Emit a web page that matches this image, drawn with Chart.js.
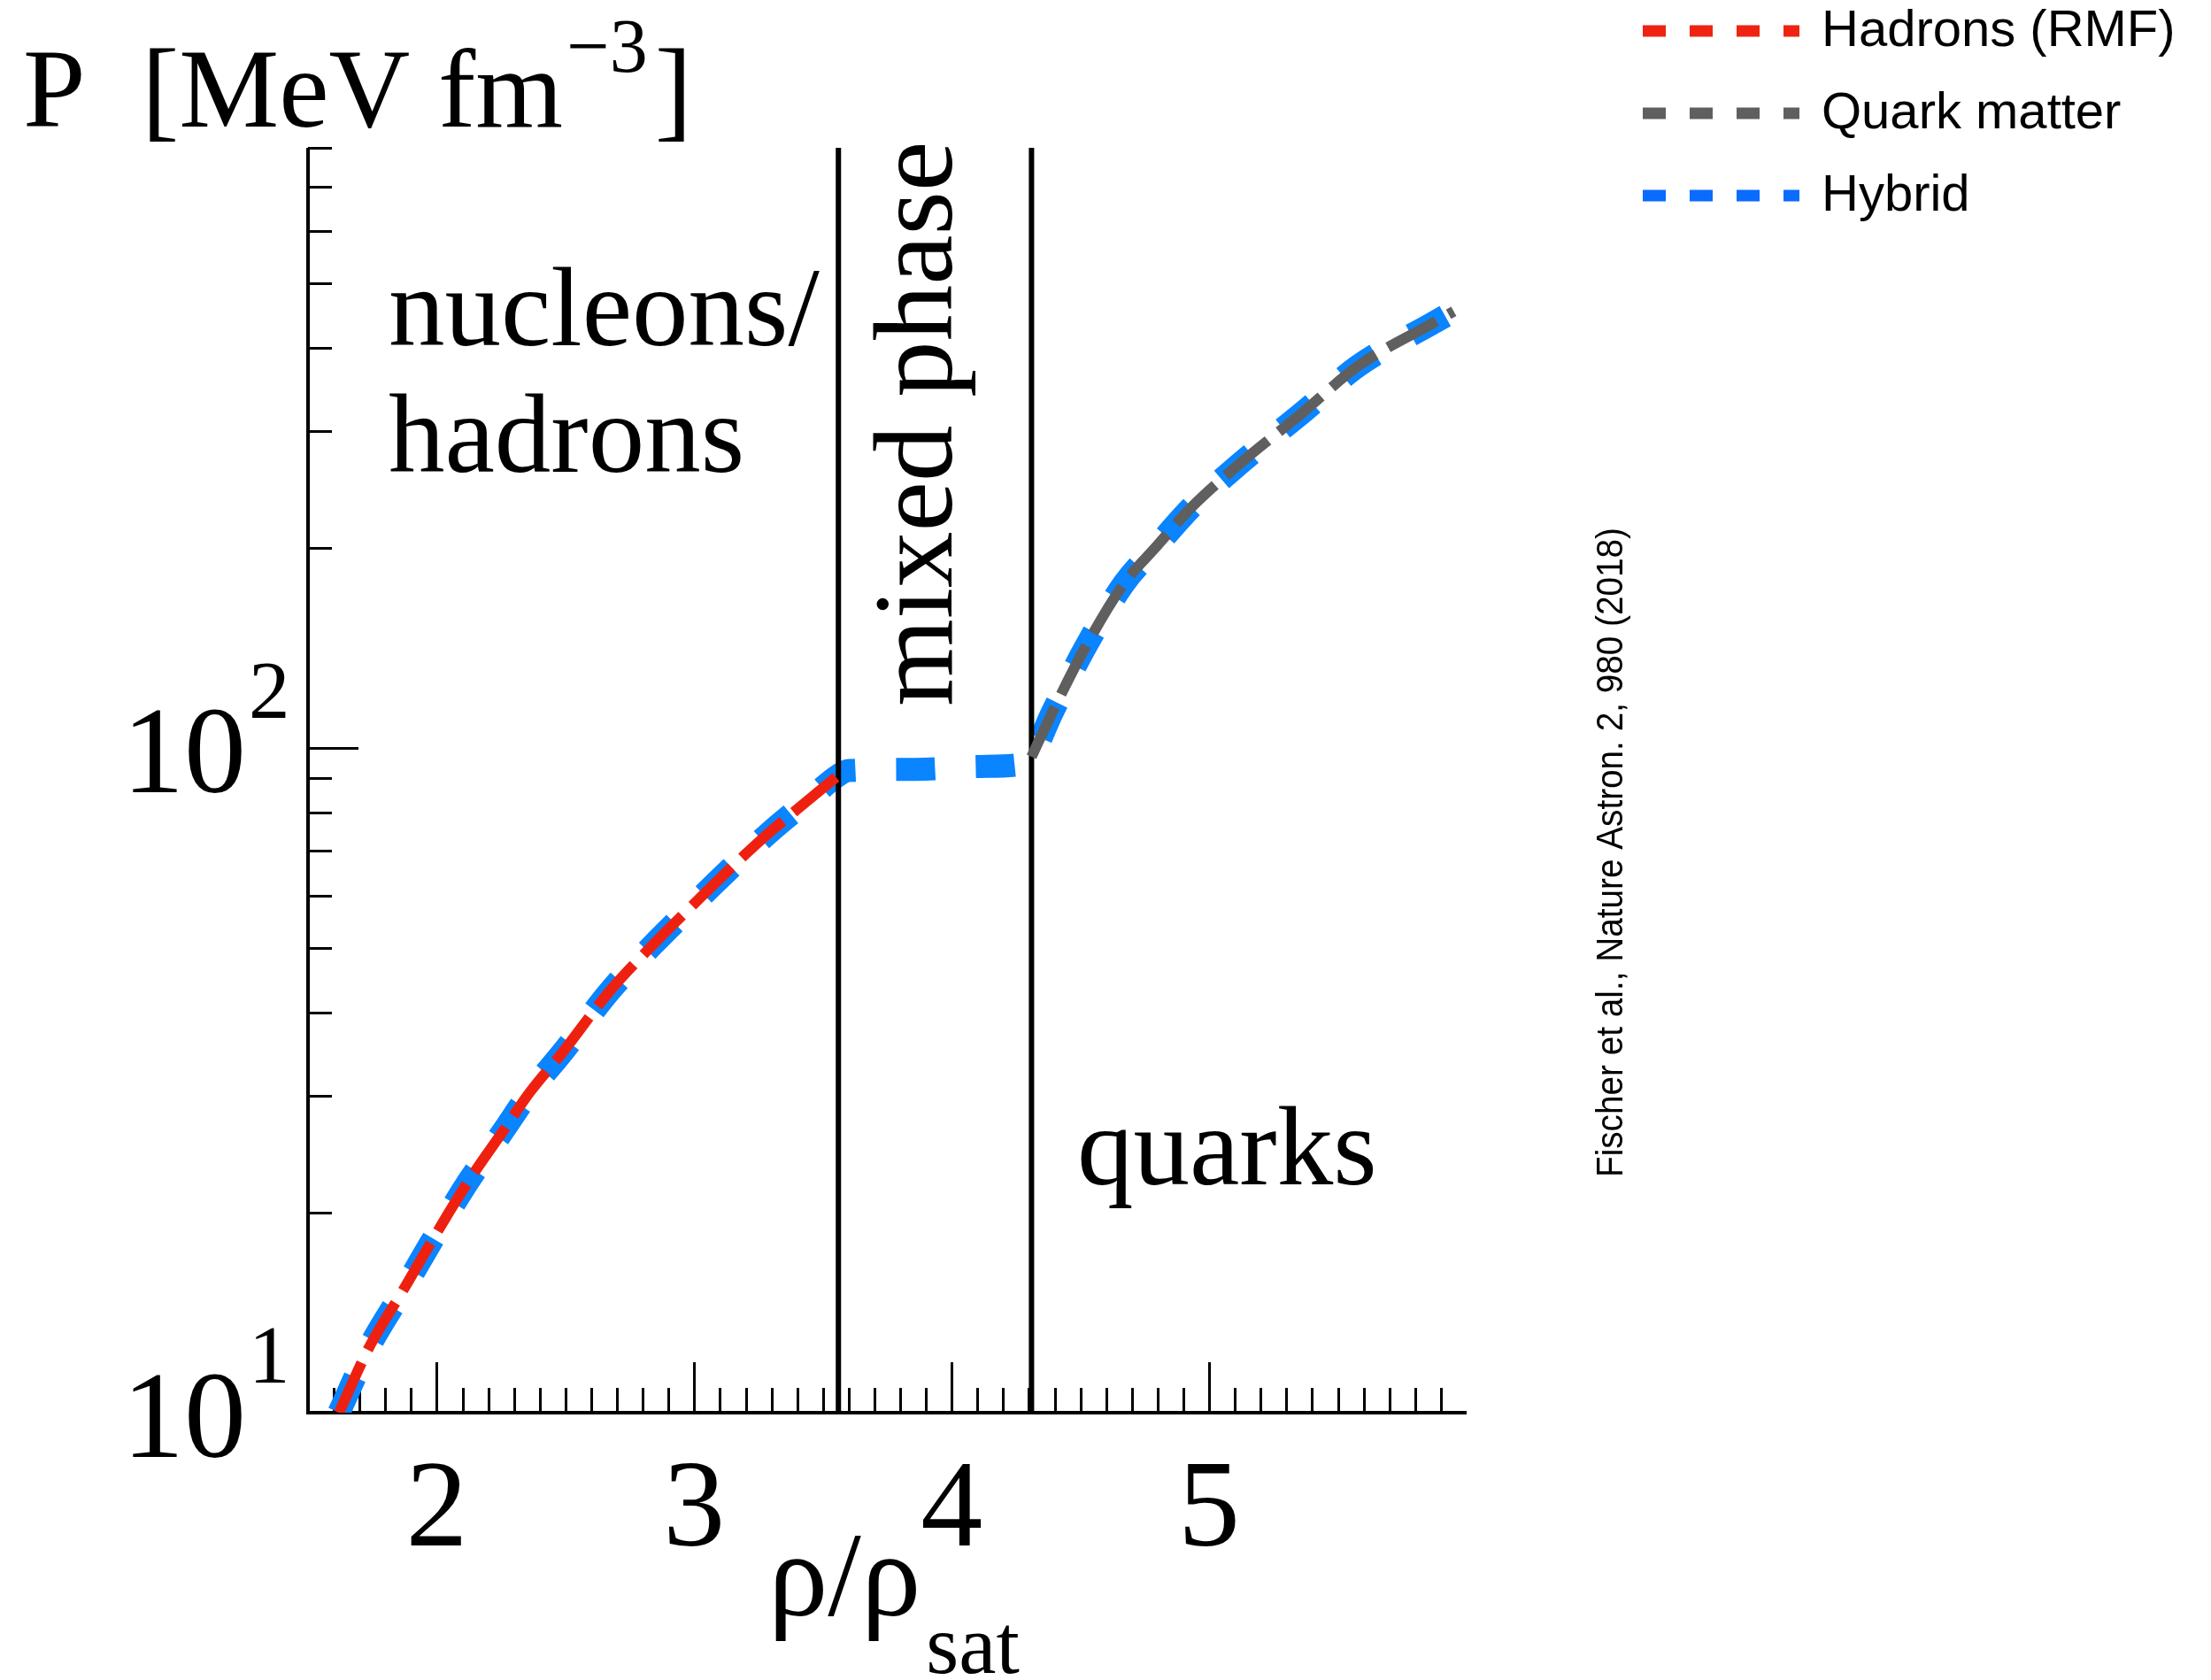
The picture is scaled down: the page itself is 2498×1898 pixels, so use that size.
<!DOCTYPE html>
<html>
<head>
<meta charset="utf-8">
<title>Hybrid EoS</title>
<script src="https://cdn.jsdelivr.net/npm/chart.js@4.4.0/dist/chart.umd.min.js"></script>
<style>
  html, body { margin: 0; padding: 0; background: #ffffff; }
  canvas { display: block; }
</style>
</head>
<body>
<canvas id="eos" width="2498" height="1898" style="width:2498px;height:1898px"></canvas>
<script>
// pressure vs density (rho in rho_sat, P in MeV fm^-3)
const rhoHadrons = [1.62, 1.74, 1.87, 1.98, 2.12, 2.26, 2.36, 2.49, 2.67, 2.84, 2.99, 3.11, 3.29, 3.44, 3.56];
const pHadrons = [10.0, 12.6, 15.3, 18.1, 22.2, 26.6, 30.3, 34.9, 43.0, 50.6, 57.8, 64.2, 74.5, 83.3, 91.0];

const rhoMixed = [3.60, 3.86, 4.11, 4.27];
const pMixed = [92.5, 92.9, 93.8, 94.5];

const rhoQuarks = [4.31, 4.39, 4.52, 4.67, 4.79, 4.93, 5.12, 5.36, 5.58, 5.86, 5.95];
const pQuarks = [97, 113, 142, 177, 200, 230, 268, 319, 376, 434, 454];

// borders of the mixed phase
const phaseBounds = [3.56, 4.31];

const xTickValues = [2, 3, 4, 5];
const yTickValues = [10, 100];
const yTickExponents = ['1', '2'];
const yMinorTicks = [20, 30, 40, 50, 60, 70, 80, 90, 200, 300, 400, 500, 600, 700, 800];

const legendLabels = ['Hadrons (RMF)', 'Quark matter', 'Hybrid'];
const legendColors = ['#ef2312', '#5f5f5f', '#0a6bff'];

const colors = {
  hadrons: '#ee2111',
  quarks: '#5f5f5f',
  hybrid: '#0a84ff',
};

const SERIF = '"Liberation Serif", "Times New Roman", serif';
const SANS = '"Liberation Sans", Arial, sans-serif';

function to_points(xs, ys) {
  return xs.map((x, i) => ({ x: x, y: ys[i] }));
}

function phase_line(rho) {
  return {
    data: to_points([rho, rho], [10, 800]),
    borderColor: '#000000',
    borderWidth: 6,
    pointRadius: 0,
    order: 1,
  };
}

// axes, inward ticks
function draw_axes(chart) {
  const ctx = chart.ctx;
  const area = chart.chartArea;
  const xs = chart.scales.x;
  const ys = chart.scales.y;
  ctx.save();
  ctx.strokeStyle = '#000000';
  ctx.lineWidth = 4;
  ctx.beginPath();
  ctx.moveTo(area.left, area.top);
  ctx.lineTo(area.left, area.bottom);
  ctx.lineTo(area.right, area.bottom);
  ctx.stroke();

  ctx.lineWidth = 3;
  ctx.beginPath();
  for (let i = 16; i < 60; i++) {
    const px = Math.round(xs.getPixelForValue(i / 10)) + 0.5;
    const len = i % 10 === 0 ? 57 : 28;
    ctx.moveTo(px, area.bottom);
    ctx.lineTo(px, area.bottom - len);
  }
  for (const v of yMinorTicks) {
    const py = Math.round(ys.getPixelForValue(v)) + 0.5;
    ctx.moveTo(area.left, py);
    ctx.lineTo(area.left + 27, py);
  }
  const py100 = Math.round(ys.getPixelForValue(100)) + 0.5;
  ctx.moveTo(area.left, py100);
  ctx.lineTo(area.left + 57, py100);
  ctx.stroke();
  ctx.restore();
}

function draw_rotated(ctx, text, x, y, font, maxWidth) {
  ctx.save();
  ctx.translate(x, y);
  ctx.rotate(-Math.PI / 2);
  ctx.font = font;
  ctx.textAlign = 'left';
  ctx.textBaseline = 'alphabetic';
  if (maxWidth) {
    ctx.fillText(text, 0, 0, maxWidth);
  } else {
    ctx.fillText(text, 0, 0);
  }
  ctx.restore();
}

function draw_texts(chart) {
  const ctx = chart.ctx;
  const xs = chart.scales.x;
  const ys = chart.scales.y;
  ctx.save();
  ctx.fillStyle = '#000000';
  ctx.textBaseline = 'alphabetic';

  // y title  P [MeV fm^-3]
  ctx.textAlign = 'left';
  ctx.font = '127px ' + SERIF;
  ctx.fillText('P', 26, 143);
  ctx.fillText('[MeV fm', 160, 143);
  let w = ctx.measureText('[MeV fm').width;
  ctx.font = '86px ' + SERIF;
  ctx.fillText('\u22123', 160 + w + 4, 81);
  const w2 = ctx.measureText('\u22123').width;
  ctx.font = '127px ' + SERIF;
  ctx.fillText(']', 160 + w + 4 + w2 + 8, 143);

  // y tick labels 10^n
  yTickValues.forEach((v, i) => {
    const py = ys.getPixelForValue(v);
    ctx.font = '140px ' + SERIF;
    ctx.textAlign = 'right';
    ctx.fillText('10', 278, py + 50);
    ctx.font = '93px ' + SERIF;
    ctx.textAlign = 'left';
    ctx.fillText(yTickExponents[i], 281, py - 34);
  });

  // x tick labels
  ctx.font = '140px ' + SERIF;
  ctx.textAlign = 'center';
  xTickValues.forEach((v) => {
    ctx.fillText(String(v), xs.getPixelForValue(v), 1746);
  });

  // x title rho/rho_sat
  ctx.textAlign = 'left';
  ctx.font = '135px ' + SERIF;
  ctx.fillText('\u03c1/\u03c1', 868, 1825);
  w = ctx.measureText('\u03c1/\u03c1').width;
  ctx.font = '95px ' + SERIF;
  ctx.fillText('sat', 868 + w + 6, 1890);

  // region annotations
  ctx.font = '127px ' + SERIF;
  ctx.fillText('nucleons/', 439, 390);
  ctx.fillText('hadrons', 439, 533);
  ctx.fillText('quarks', 1217, 1338);
  draw_rotated(ctx, 'mixed phase', 1075, 798, '127px ' + SERIF);

  // reference
  draw_rotated(ctx, 'Fischer et al., Nature Astron. 2, 980 (2018)', 1833, 1330, '42px ' + SANS, 734);

  // legend
  legendLabels.forEach((label, i) => {
    const ly = 35 + i * 93;
    ctx.save();
    ctx.strokeStyle = legendColors[i];
    ctx.lineWidth = 13;
    ctx.lineCap = 'butt';
    ctx.setLineDash([26, 27]);
    ctx.beginPath();
    ctx.moveTo(1856, ly);
    ctx.lineTo(2033, ly);
    ctx.stroke();
    ctx.restore();
    ctx.font = '58px ' + SANS;
    ctx.textAlign = 'left';
    ctx.textBaseline = 'middle';
    ctx.fillText(label, 2058, ly + 1);
    ctx.textBaseline = 'alphabetic';
  });
  ctx.restore();
}

const overlay = {
  id: 'overlay',
  beforeDatasetsDraw(chart) {
    draw_axes(chart);
  },
  afterDraw(chart) {
    draw_texts(chart);
  },
};

const canvas = document.getElementById('eos');

const chart = new Chart(canvas, {
  type: 'line',
  data: {
    datasets: [
      {
        label: 'Hadrons (RMF)',
        data: to_points(rhoHadrons, pHadrons),
        borderColor: colors.hadrons,
        borderWidth: 12,
        borderDash: [62, 16],
        borderCapStyle: 'butt',
        pointRadius: 0,
        cubicInterpolationMode: 'monotone',
        order: 0,
      },
      {
        label: 'Quark matter',
        data: to_points(rhoQuarks, pQuarks),
        borderColor: colors.quarks,
        borderWidth: 12,
        borderDash: [62, 16],
        borderCapStyle: 'butt',
        pointRadius: 0,
        cubicInterpolationMode: 'monotone',
        order: 0,
      },
      {
        label: 'Hybrid',
        data: to_points(rhoHadrons.concat(rhoMixed, rhoQuarks), pHadrons.concat(pMixed, pQuarks)),
        borderColor: colors.hybrid,
        borderWidth: 26,
        borderDash: [44, 46],
        borderCapStyle: 'butt',
        borderJoinStyle: 'round',
        pointRadius: 0,
        cubicInterpolationMode: 'monotone',
        order: 2,
      },
      phase_line(phaseBounds[0]),
      phase_line(phaseBounds[1]),
    ],
  },
  options: {
    responsive: false,
    animation: false,
    devicePixelRatio: 1,
    layout: {
      padding: { left: 348, top: 167, right: 841, bottom: 302 },
    },
    plugins: {
      legend: { display: false },
      tooltip: { enabled: false },
      title: { display: false },
    },
    scales: {
      x: {
        type: 'linear',
        min: 1.5,
        max: 6.0,
        display: false,
      },
      y: {
        type: 'logarithmic',
        min: 10,
        max: 800,
        display: false,
      },
    },
  },
  plugins: [overlay],
});
</script>
</body>
</html>
